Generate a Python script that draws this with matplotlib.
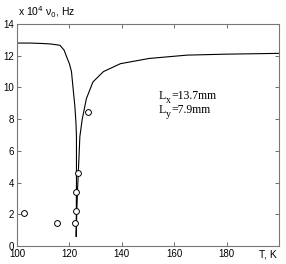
import matplotlib
matplotlib.use('Agg')
from matplotlib import pyplot as plt

plt.rcParams['font.family'] = ['Liberation Sans', 'DejaVu Sans']

# model curve
t_curve = [100, 105, 110, 113, 116.4, 118, 118.9, 120, 120.8, 121.5, 122.1, 122.5, 122.7, 122.7, 122.6,
           122.8, 123.1, 123.5, 124.0, 124.9, 126.5, 129, 133, 139.5, 150.5, 165, 180, 200]
nu_curve = [12.8, 12.8, 12.77, 12.74, 12.66, 12.35, 11.95, 11.5, 11.0, 9.8, 8.8, 7.8, 6.9, 4.0, 0.6,
            2.0, 3.5, 5.0, 6.9, 8.0, 9.3, 10.35, 11.0, 11.5, 11.83, 12.04, 12.1, 12.15]

# measured points
t_meas = [102.8, 115.1, 122.1, 122.7, 122.7, 123.4, 127.2]
nu_meas = [2.1, 1.47, 1.43, 2.2, 3.4, 4.6, 8.47]

xticks = [100, 120, 140, 160, 180, 200]
xticklabels = ['100', '120', '140', '160', '180', '']
yticks = [0, 2, 4, 6, 8, 10, 12, 14]

fig = plt.figure(figsize=(2.86, 2.64), dpi=100)
ax = fig.add_axes([0.0594, 0.068, 0.916, 0.841])

ax.plot(t_curve, nu_curve, color='black', lw=0.8)
ax.plot(t_meas, nu_meas, 'o', mfc='white', mec='black', ms=4.2, mew=0.7)

ax.set_xlim(100, 200)
ax.set_ylim(0, 14)
ax.set_xticks(xticks)
ax.set_xticklabels(xticklabels)
ax.set_yticks(yticks)
ax.tick_params(direction='in', length=3, width=0.6, labelsize=7, pad=2,
               top=True, right=True, color='#555555')
for s in ax.spines.values():
    s.set_color('#777777')
    s.set_linewidth(0.8)

# axis captions
ax.text(0.005, 1.02, 'x 10$^4$ ν$_0$, Hz', transform=ax.transAxes, fontsize=7.5,
        ha='left', va='bottom', math_fontfamily='dejavusans')
ax.annotate('T, K', xy=(199.2, 0), xycoords=ax.get_xaxis_transform(),
            xytext=(0, -2.5), textcoords='offset points', ha='right', va='top', fontsize=7.5)

# sample sizes, subscripts drawn by hand (low, upright)
serif = dict(fontsize=8.5, family='Liberation Serif', textcoords='offset points')
for y, sub, rest in [(9.3, 'x', '=13.7mm'), (8.4, 'y', '=7.9mm')]:
    ax.annotate('L', xy=(154.2, y), xytext=(0, 0), **serif)
    ax.annotate(sub, xy=(154.2, y), xytext=(5.2, -3.3), fontsize=7,
                family='Liberation Serif', textcoords='offset points')
    ax.annotate(rest, xy=(154.2, y), xytext=(8.6, 0), **serif)

fig.savefig('out.png', dpi=100)
